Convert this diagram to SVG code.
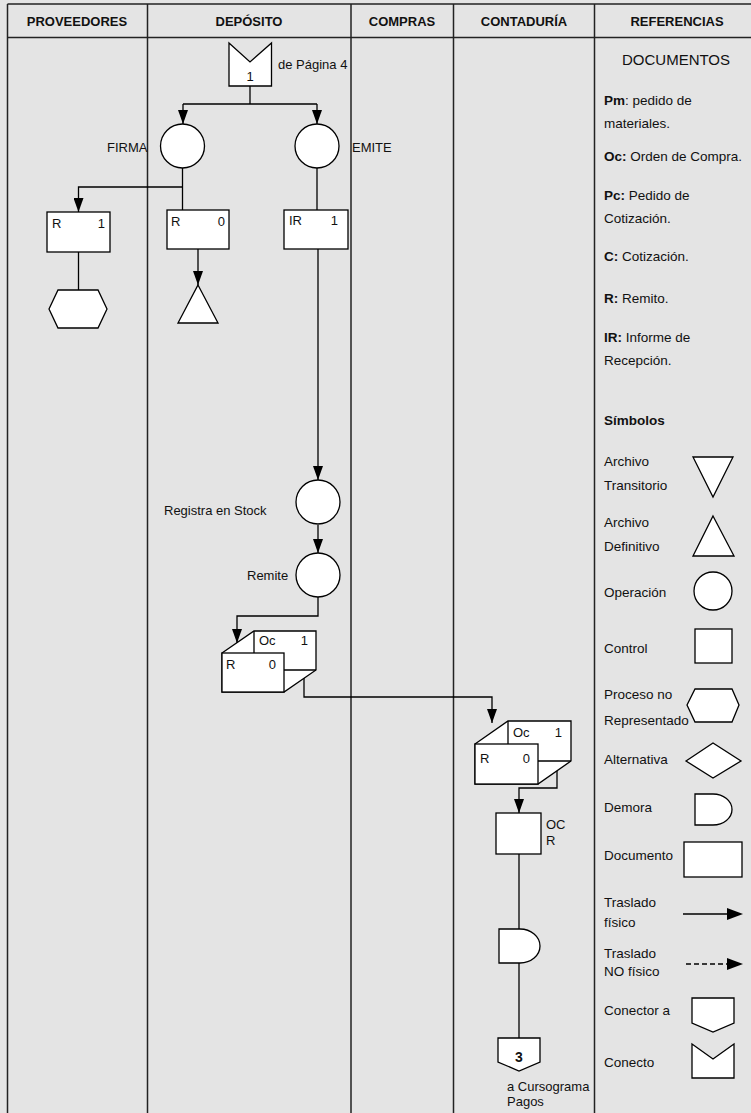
<svg xmlns="http://www.w3.org/2000/svg" width="751" height="1113" viewBox="0 0 751 1113">
  <defs>
    <marker id="arr" viewBox="0 0 14 10" refX="14" refY="5" markerWidth="14" markerHeight="10" markerUnits="userSpaceOnUse" orient="auto">
      <path d="M0,0 L14,5 L0,10 z" fill="#000"/>
    </marker>
    <style>
      .bg { fill: #e4e4e4; }
      .grid { stroke: #222; stroke-width: 1.5; fill: none; }
      .hdr { font-family: "Liberation Sans", Arial, sans-serif; font-size: 13px; font-weight: bold; fill: #111; text-anchor: middle; }
      .lbl { font-family: "Liberation Sans", Arial, sans-serif; font-size: 13px; fill: #111; }
      .ref { font-family: "Liberation Sans", Arial, sans-serif; font-size: 13.5px; fill: #111; }
      .shape { fill: #fff; stroke: #000; stroke-width: 1.3; }
      .flow { fill: none; stroke: #000; stroke-width: 1.3; }
      .b { font-weight: bold; }
      .end { text-anchor: end; }
      .mid { text-anchor: middle; }
    </style>
  </defs>

  <rect class="bg" x="0" y="0" width="751" height="1113"/>

  <g id="table">
    <line class="grid" x1="7.5" y1="4" x2="751" y2="4"/>
    <line class="grid" x1="7.5" y1="37.5" x2="751" y2="37.5"/>
    <line class="grid" x1="7.5" y1="4" x2="7.5" y2="1113"/>
    <line class="grid" x1="147.5" y1="4" x2="147.5" y2="1113"/>
    <line class="grid" x1="351" y1="4" x2="351" y2="1113"/>
    <line class="grid" x1="453.5" y1="4" x2="453.5" y2="1113"/>
    <line class="grid" x1="594.5" y1="4" x2="594.5" y2="1113"/>
    <text class="hdr" x="77" y="26">PROVEEDORES</text>
    <text class="hdr" x="249" y="26">DEPÓSITO</text>
    <text class="hdr" x="402" y="26">COMPRAS</text>
    <text class="hdr" x="524" y="26">CONTADURÍA</text>
    <text class="hdr" x="677" y="26">REFERENCIAS</text>
  </g>

  <g id="connectors">
    <path class="flow" d="M250,86 V104"/>
    <path class="flow" d="M183,104 H317"/>
    <path class="flow" d="M183,104 V124" marker-end="url(#arr)"/>
    <path class="flow" d="M317,104 V124" marker-end="url(#arr)"/>
    <path class="flow" d="M182.5,168 V210"/>
    <path class="flow" d="M182.5,187 H78.5 V212" marker-end="url(#arr)"/>
    <path class="flow" d="M78.5,252 V290"/>
    <path class="flow" d="M198,249 V285" marker-end="url(#arr)"/>
    <path class="flow" d="M317,168 V210"/>
    <path class="flow" d="M318,249 V480" marker-end="url(#arr)"/>
    <path class="flow" d="M318,525 V553" marker-end="url(#arr)"/>
    <path class="flow" d="M318,597 V616 H237 V643" marker-end="url(#arr)"/>
    <path class="flow" d="M304,678 V697 H492 V723" marker-end="url(#arr)"/>
    <path class="flow" d="M557,771 V788 H519 V813" marker-end="url(#arr)"/>
    <path class="flow" d="M519,854 V929"/>
    <path class="flow" d="M519,963 V1038"/>
  </g>

  <g id="conector-entrada">
    <polygon class="shape" points="229,43 250,62 271.5,43 271.5,86 229,86"/>
    <text class="lbl mid" x="250" y="81">1</text>
    <text class="lbl" x="278" y="69">de Página 4</text>
  </g>

  <g id="op-firma">
    <circle class="shape" cx="182.5" cy="146" r="22"/>
    <text class="lbl" x="107" y="152">FIRMA</text>
  </g>

  <g id="op-emite">
    <circle class="shape" cx="317" cy="146" r="22"/>
    <text class="lbl" x="352" y="152">EMITE</text>
  </g>

  <g id="doc-r1">
    <rect class="shape" x="47" y="212" width="63" height="40"/>
    <text class="lbl" x="52" y="228">R</text>
    <text class="lbl end" x="105" y="228">1</text>
  </g>

  <g id="proceso-no-rep">
    <polygon class="shape" points="49,309 58,290 98,290 107,309 98,328 58,328"/>
  </g>

  <g id="doc-r0">
    <rect class="shape" x="167" y="210" width="62" height="39"/>
    <text class="lbl" x="171" y="226">R</text>
    <text class="lbl end" x="225" y="226">0</text>
  </g>

  <g id="archivo-def">
    <polygon class="shape" points="198,285 218,323 178,323"/>
  </g>

  <g id="doc-ir">
    <rect class="shape" x="284" y="210" width="64" height="39"/>
    <text class="lbl" x="289" y="225">IR</text>
    <text class="lbl end" x="338" y="225">1</text>
  </g>

  <g id="op-registra">
    <circle class="shape" cx="318" cy="502" r="22"/>
    <text class="lbl" x="164" y="515">Registra en Stock</text>
  </g>

  <g id="op-remite">
    <circle class="shape" cx="318" cy="575" r="22"/>
    <text class="lbl" x="247" y="580">Remite</text>
  </g>

  <g id="docs-oc-r-deposito">
    <polygon class="shape" points="222,653 254,631 316,631 316,670 284,692 222,692"/>
    <path class="flow" d="M254,631 V653 M284,670 H316"/>
    <rect class="shape" x="222" y="653" width="62" height="39"/>
    <text class="lbl" x="259" y="645">Oc</text>
    <text class="lbl end" x="308" y="645">1</text>
    <text class="lbl" x="226" y="669">R</text>
    <text class="lbl end" x="276" y="669">0</text>
  </g>

  <g id="docs-oc-r-contaduria">
    <polygon class="shape" points="475,744 508,721 571,721 571,761 538,784 475,784"/>
    <path class="flow" d="M508,721 V744 M538,761 H571"/>
    <rect class="shape" x="475" y="744" width="63" height="40"/>
    <text class="lbl" x="513" y="737">Oc</text>
    <text class="lbl end" x="562" y="737">1</text>
    <text class="lbl" x="480" y="763">R</text>
    <text class="lbl end" x="530" y="763">0</text>
  </g>

  <g id="control">
    <rect class="shape" x="496" y="813" width="45" height="41"/>
    <text class="lbl" x="546" y="829">OC</text>
    <text class="lbl" x="546" y="845">R</text>
  </g>

  <g id="demora">
    <path class="shape" d="M499,929 H520 A20,17 0 0 1 520,963 H499 Z"/>
  </g>

  <g id="conector-salida">
    <polygon class="shape" points="498,1038 540,1038 540,1062 519,1071 498,1062"/>
    <text class="lbl mid b" x="519" y="1062" style="font-size:14px">3</text>
    <text class="lbl" x="507" y="1091">a Cursograma</text>
    <text class="lbl" x="507" y="1106">Pagos</text>
  </g>

  <g id="referencias">
    <text class="ref mid" x="676" y="65" style="font-size:15px">DOCUMENTOS</text>
    <text class="ref" x="604" y="105"><tspan class="b">Pm</tspan>: pedido de</text>
    <text class="ref" x="604" y="128">materiales.</text>
    <text class="ref" x="604" y="161"><tspan class="b">Oc:</tspan> Orden de Compra.</text>
    <text class="ref" x="604" y="200"><tspan class="b">Pc:</tspan> Pedido de</text>
    <text class="ref" x="604" y="223">Cotización.</text>
    <text class="ref" x="604" y="261"><tspan class="b">C:</tspan> Cotización.</text>
    <text class="ref" x="604" y="303"><tspan class="b">R:</tspan> Remito.</text>
    <text class="ref" x="604" y="342"><tspan class="b">IR:</tspan> Informe de</text>
    <text class="ref" x="604" y="365">Recepción.</text>
    <text class="ref b" x="604" y="425">Símbolos</text>

    <text class="ref" x="604" y="466">Archivo</text>
    <text class="ref" x="604" y="490">Transitorio</text>
    <polygon class="shape" points="693,457 733,457 713,497"/>

    <text class="ref" x="604" y="527">Archivo</text>
    <text class="ref" x="604" y="551">Definitivo</text>
    <polygon class="shape" points="713,516 734,556 693,556"/>

    <text class="ref" x="604" y="597">Operación</text>
    <circle class="shape" cx="713" cy="591" r="19"/>

    <text class="ref" x="604" y="653">Control</text>
    <rect class="shape" x="695" y="629" width="37" height="34"/>

    <text class="ref" x="604" y="699">Proceso no</text>
    <text class="ref" x="604" y="725">Representado</text>
    <polygon class="shape" points="687,705 695,689 732,689 739,705 732,722 695,722"/>

    <text class="ref" x="604" y="764">Alternativa</text>
    <polygon class="shape" points="686,761 713,743 741,761 713,778"/>

    <text class="ref" x="604" y="812">Demora</text>
    <path class="shape" d="M695,794 H713 A19,15.5 0 0 1 713,825 H695 Z"/>

    <text class="ref" x="604" y="860">Documento</text>
    <rect class="shape" x="684" y="842" width="58" height="35"/>

    <text class="ref" x="604" y="907">Traslado</text>
    <text class="ref" x="604" y="927">físico</text>
    <line x1="683" y1="914" x2="729" y2="914" stroke="#000" stroke-width="1.3"/>
    <polygon points="727,908 743,914 727,920" fill="#000"/>

    <text class="ref" x="604" y="958">Traslado</text>
    <text class="ref" x="604" y="976">NO físico</text>
    <line x1="686" y1="964" x2="729" y2="964" stroke="#000" stroke-width="1.3" stroke-dasharray="5,3"/>
    <polygon points="727,958 743,964 727,970" fill="#000"/>

    <text class="ref" x="604" y="1015">Conector a</text>
    <polygon class="shape" points="692,998 734,998 734,1023 713,1032 692,1023"/>

    <text class="ref" x="604" y="1067">Conecto</text>
    <polygon class="shape" points="692,1044 713,1059 734,1044 734,1078 692,1078"/>
  </g>
</svg>
